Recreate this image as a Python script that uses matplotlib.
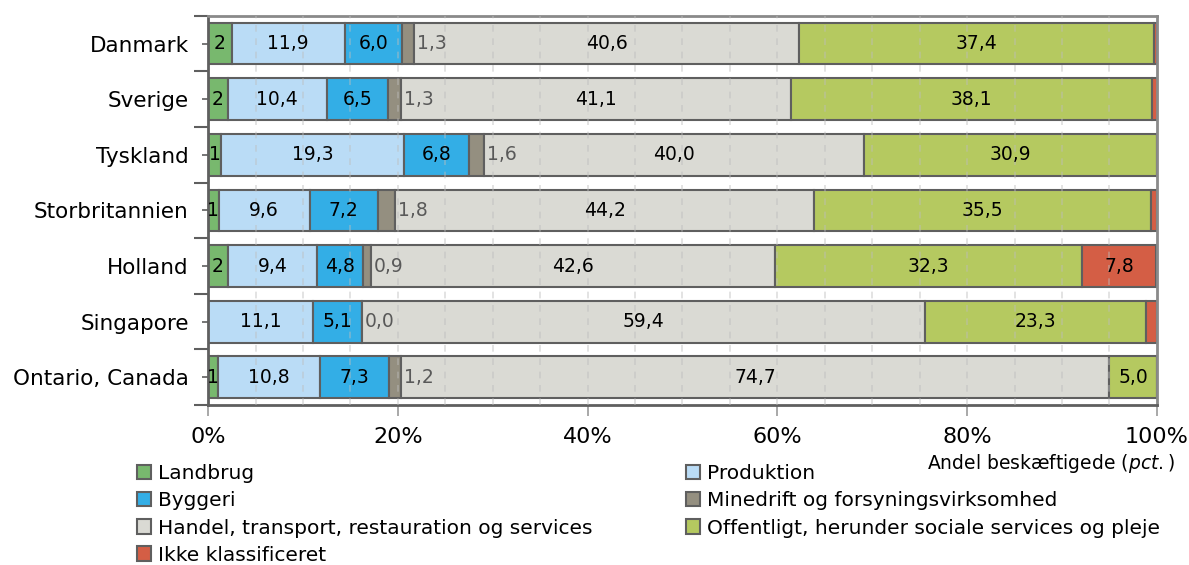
import matplotlib
matplotlib.use('Agg')
import matplotlib.pyplot as plt
import matplotlib.ticker as mtick
from matplotlib.patches import Patch
import numpy as np

# Data (andel beskæftigede, pct.)
lande = ['Danmark', 'Sverige', 'Tyskland', 'Storbritannien', 'Holland',
         'Singapore', 'Ontario, Canada']
landbrug = [2.5, 2.1, 1.4, 1.1, 2.1, 0.0, 1.0]
produktion = [11.9, 10.4, 19.3, 9.6, 9.4, 11.1, 10.8]
byggeri = [6.0, 6.5, 6.8, 7.2, 4.8, 5.1, 7.3]
minedrift = [1.3, 1.3, 1.6, 1.8, 0.9, 0.0, 1.2]
handel = [40.6, 41.1, 40.0, 44.2, 42.6, 59.4, 74.7]
offentligt = [37.4, 38.1, 30.9, 35.5, 32.3, 23.3, 5.0]
ikke_klass = [0.3, 0.6, 0.0, 0.6, 7.8, 1.1, 0.0]

serier = [
    ('Landbrug', landbrug, '#78b86e'),
    ('Produktion', produktion, '#badcf6'),
    ('Byggeri', byggeri, '#33aee6'),
    ('Minedrift og forsyningsvirksomhed', minedrift, '#948f80'),
    ('Handel, transport, restauration og services', handel, '#dadad4'),
    ('Offentligt, herunder sociale services og pleje', offentligt, '#b5c960'),
    ('Ikke klassificeret', ikke_klass, '#d45e45'),
]

kant = '#5f5f5f'
fs_bar = 13.5
fig = plt.figure(figsize=(11.89, 5.65), dpi=100)
ax = fig.add_axes([0.175, 0.283, 0.798, 0.689])

y = np.arange(len(lande))
venstre = np.zeros(len(lande))
for navn, vals, farve in serier:
    vals = np.array(vals)
    ax.barh(y, vals, left=venstre, height=0.75, color=farve,
            edgecolor=kant, linewidth=1.5, zorder=2)
    for i, v in enumerate(vals):
        if navn == 'Landbrug':
            if v > 0:
                ax.text(venstre[i] + v / 2, y[i], f'{v:.0f}', ha='center',
                        va='center', fontsize=fs_bar, color='black', zorder=4)
        elif navn.startswith('Minedrift'):
            ax.text(venstre[i] + v + 0.3, y[i], f'{v:.1f}'.replace('.', ','),
                    ha='left', va='center', fontsize=fs_bar, color='#595959', zorder=4)
        elif navn == 'Ikke klassificeret':
            if v > 3:
                ax.text(venstre[i] + v / 2, y[i], f'{v:.1f}'.replace('.', ','),
                        ha='center', va='center', fontsize=fs_bar, zorder=4)
        else:
            ax.text(venstre[i] + v / 2, y[i], f'{v:.1f}'.replace('.', ','),
                    ha='center', va='center', fontsize=fs_bar, zorder=4)
    venstre += vals

# stiplede gitterlinjer for hver 5%
for gx in np.arange(5, 100, 5):
    ax.axvline(gx, color='#bdbdbd', linestyle=(0, (4, 4)), linewidth=1.2,
               alpha=0.5, zorder=3)

ax.set_xlim(0, 100)
ax.set_ylim(len(lande) - 0.5, -0.5)
ax.set_yticks(y)
ax.set_yticklabels(lande, fontsize=15.5)
ax.set_yticks(np.arange(-0.5, len(lande)), minor=True)
ax.tick_params(axis='y', which='major', length=4, width=1.2, color=kant, pad=10)
ax.tick_params(axis='y', which='minor', length=10, width=1.5, color=kant)

ax.set_xticks(np.arange(0, 101, 20))
ax.xaxis.set_major_formatter(mtick.FuncFormatter(lambda v, _: f'{v:.0f}%'))
ax.tick_params(axis='x', which='major', length=8, width=1.2, color='#9a9a9a',
               labelsize=16, pad=8)

for side in ax.spines.values():
    side.set_color(kant)
    side.set_linewidth(2)
ax.spines['top'].set_color('#8a8a8a')
ax.spines['right'].set_color('#8a8a8a')

fig.text(0.988, 0.180, 'Andel beskæftigede ($\\it{pct.}$)', ha='right',
         va='center', fontsize=13.5)

handles = [Patch(facecolor=f, edgecolor=kant, linewidth=1.5, label=n)
           for n, _, f in serier]
venstre_kol = [handles[i] for i in (0, 2, 4, 6)]
hoejre_kol = [handles[i] for i in (1, 3, 5)]
kw = dict(frameon=False, fontsize=14.5, handlelength=0.7, handleheight=0.7,
          handletextpad=0.35, labelspacing=0.4, borderaxespad=0, borderpad=0)
fig.legend(handles=venstre_kol, loc='upper left',
           bbox_to_anchor=(0.115, 0.178), **kw)
fig.legend(handles=hoejre_kol, loc='upper left',
           bbox_to_anchor=(0.577, 0.178), **kw)

fig.savefig('out.png', dpi=100)
